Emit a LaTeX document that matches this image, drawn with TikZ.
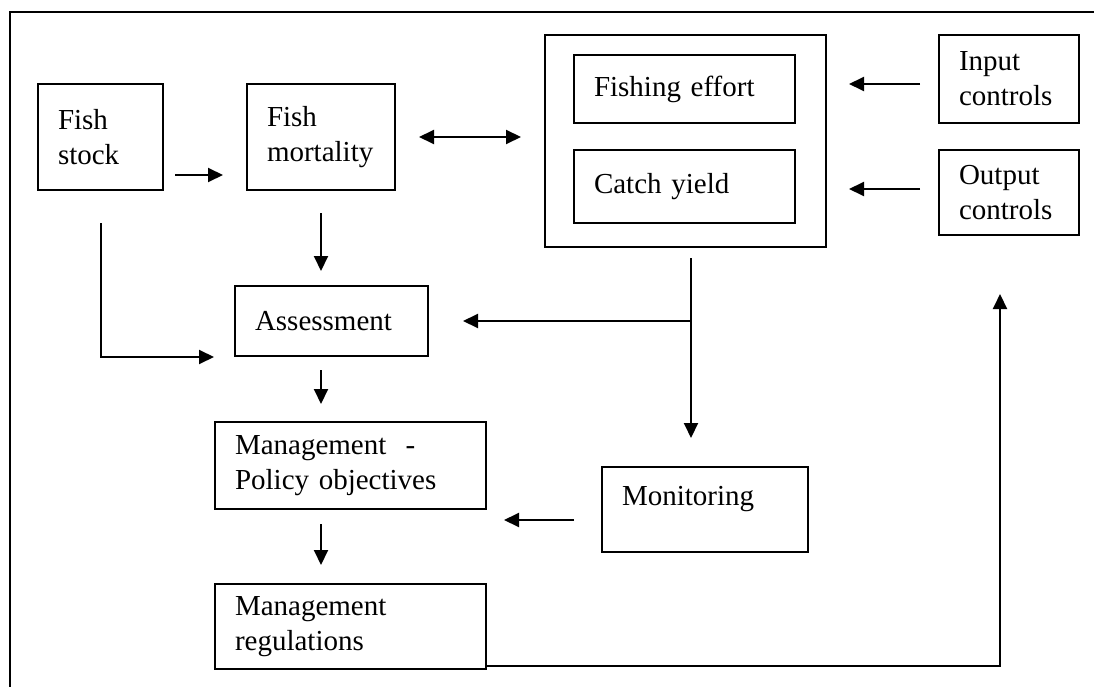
\documentclass[tikz,border=0pt]{standalone}
\usepackage{fontspec}
\setmainfont{Liberation Serif}
\usetikzlibrary{arrows.meta}

\begin{document}
\begin{tikzpicture}[x=1pt, y=-1pt, font=\fontsize{29}{35}\selectfont,
    box/.style={draw, line width=2pt, inner xsep=20pt, inner ysep=0pt, align=left},
    arr/.style={line width=2pt, -{Triangle[length=15pt,width=14pt]}},
    both/.style={line width=2pt, {Triangle[length=15pt,width=14pt]}-{Triangle[length=15pt,width=14pt]}},
    frame/.style={line width=2.6pt}]
    \useasboundingbox (0,0) rectangle (1094,687);
    \draw [frame] (1094,12) -- (10,12) -- (10,690);

    % boxes
    \node [box, minimum width=125pt, minimum height=106pt, text width=85pt] (stock) at (100.5,137) {Fish\\stock};
    \node [box, minimum width=148pt, minimum height=106pt, text width=108pt] (mort) at (321,137) {Fish\\mortality};
    \node [box, minimum width=281pt, minimum height=212pt] (big) at (685.5,141) {};
    \node [box, minimum width=221pt, minimum height=68pt, text width=181pt] (effort) at (684.5,89) {Fishing effort};
    \node [box, minimum width=221pt, minimum height=73pt, text width=181pt] (catch) at (684.5,186.5) {Catch yield};
    \node [box, minimum width=140pt, minimum height=88pt, text width=100pt] (input) at (1009,79) {Input\\controls};
    \node [box, minimum width=140pt, minimum height=85pt, text width=100pt] (output) at (1009,192.5) {Output\\controls};
    \node [box, minimum width=193pt, minimum height=70pt, text width=153pt] (assess) at (331.5,321) {Assessment};
    \node [box, minimum width=271pt, minimum height=87pt, text width=231pt] (policy) at (350.5,465.5) {Management~ -\\Policy objectives};
    \node [box, minimum width=206pt, minimum height=85pt, text width=166pt, text depth=28pt] (monitor) at (705,509.5) {Monitoring};
    \node [box, minimum width=271pt, minimum height=85pt, text width=231pt] (regs) at (350.5,626.5) {Management\\regulations};

    % free ends of the split line
    \path ([xshift=5.5pt,yshift=-10pt]big.south) coordinate (drop);
    \coordinate (split) at (drop |- assess.east);
    \coordinate (mtop) at ([xshift=-14pt,yshift=28pt]monitor.north);
    \coordinate (rise) at ([xshift=-9pt,yshift=-58pt]output.south);

    % connectors
    \draw [arr] ([xshift=11pt,yshift=16pt]stock.south east) -- ([xshift=-23pt,yshift=16pt]mort.south west);
    \draw [both] ([xshift=23pt]mort.east) -- ([xshift=-23pt,yshift=4pt]big.west);
    \draw [arr] ([xshift=-18pt,yshift=-5pt]input.west) -- ([xshift=22pt,yshift=57pt]big.east);
    \draw [arr] ([xshift=-18pt,yshift=3.5pt]output.west) -- ([xshift=22pt,yshift=-48pt]big.east);
    \draw [arr] ([yshift=-22pt]mort.south) -- ([xshift=-10.5pt,yshift=14pt]assess.north);
    \draw [arr] ([yshift=-32pt]stock.south) |- ([xshift=-20pt]assess.south west);
    \draw [arr] (drop) -- (mtop);
    \draw [arr] (split) -- ([xshift=34pt]assess.east);
    \draw [arr] ([xshift=-10.5pt,yshift=-13pt]assess.south) -- ([xshift=-29.5pt,yshift=17pt]policy.north);
    \draw [arr] ([xshift=-27pt,yshift=-10.5pt]monitor.west) -- ([xshift=17pt,yshift=-54.5pt]policy.east);
    \draw [arr] ([xshift=-29.5pt,yshift=-14pt]policy.south) -- ([xshift=-29.5pt,yshift=18pt]regs.north);
    \draw [arr] ([yshift=4pt]regs.south east) -| (rise);
\end{tikzpicture}
\end{document}
